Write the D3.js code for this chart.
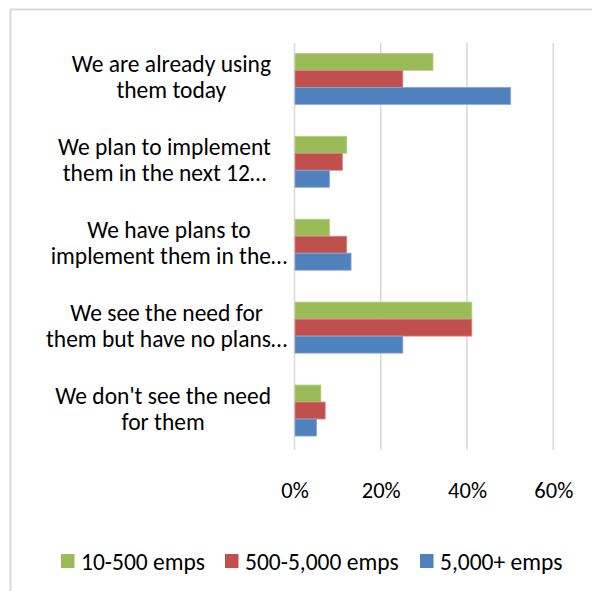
<!DOCTYPE html>
<html><head><meta charset="utf-8">
<script src="https://cdn.jsdelivr.net/npm/d3@7"></script>
<style>body{margin:0;background:#fff}svg{display:block}text{font-family:Carlito,Calibri,Lato,sans-serif;fill:#000}</style>
</head><body>
<script>
const categories = [
  ["We are already using","them today"],
  ["We plan to implement","them in the next 12…"],
  ["We have plans to","implement them in the…"],
  ["We see the need for","them but have no plans…"],
  ["We don't see the need","for them"]
];
const seriesNames = ["10-500 emps","500-5,000 emps","5,000+ emps"];
const small = [32,12,8,41,6];
const mid = [25,11,12,41,7];
const large = [50,8,13,25,5];
const tickValues = [0,20,40,60];
const colors = ["#9BBB59","#C0504D","#4F81BD"];
const strokes = ["#b5cf85","#d88a88","#86a8d6"];

const W=592,H=591;
const svg=d3.select("body").append("svg").attr("width",W).attr("height",H);
svg.append("rect").attr("x",10.5).attr("y",9.5).attr("width",W).attr("height",H)
  .attr("fill","#fff").attr("stroke","#d9d9d9").attr("stroke-width",2);

const x=d3.scaleLinear().domain([0,60]).range([294.5,553.3]);
const y=d3.scaleBand().domain(d3.range(5)).range([37.4,452]).paddingInner(0.385).paddingOuter(0.1925);
const ySub=d3.scaleBand().domain(d3.range(3)).range([0,y.bandwidth()]);

svg.append("g").selectAll("line").data(tickValues).join("line")
  .attr("x1",d=>x(d)).attr("x2",d=>x(d)).attr("y1",43).attr("y2",450)
  .attr("stroke","#d9d9d9").attr("stroke-width",1.6);

const series=[small,mid,large];
series.forEach((vals,si)=>{
  svg.append("g").selectAll("rect").data(vals).join("rect")
    .attr("x",x(0)+0.5).attr("y",(d,i)=>y(i)+ySub(si))
    .attr("width",d=>x(d)-x(0)).attr("height",ySub.bandwidth())
    .attr("fill",colors[si]).attr("stroke",strokes[si]).attr("stroke-width",0.8);
});

const fsTick=22.5, fs=23.5;
const ax=d3.axisBottom(x).tickValues(tickValues).tickFormat(d=>d+"%").tickSize(0).tickPadding(0);
const axg=svg.append("g").attr("transform","translate(0,482)").call(ax);
axg.select(".domain").remove();
axg.selectAll("text").attr("font-size",fsTick).attr("dy","0.72em").style("font-family","Carlito,Calibri,Lato,sans-serif");

const lab=svg.append("g");
const probe=svg.append("text").attr("font-size",fs).attr("visibility","hidden");
categories.forEach((lines,i)=>{
  const g=lab.append("g");
  const cy=y(i)+y.bandwidth()/2;
  const ts=lines.map((t,k)=>g.append("text").attr("font-size",fs).attr("y",cy-7+k*26.5).attr("text-anchor","middle").text(t));
  const wIncl=d3.max(ts,t=>t.node().getComputedTextLength());
  const wExcl=d3.max(lines,t=>{probe.text(t.replace(/…$/,""));return probe.node().getComputedTextLength();});
  const left=271-wExcl;
  ts.forEach(t=>t.attr("x",left+wIncl/2));
});
probe.remove();

const lx=[61,225,420];
seriesNames.forEach((n,i)=>{
  svg.append("rect").attr("x",lx[i]).attr("y",554).attr("width",13.5).attr("height",14).attr("fill",colors[i]);
  svg.append("text").attr("x",lx[i]+20).attr("y",570).attr("font-size",fs).text(n);
});
</script>
</body></html>
